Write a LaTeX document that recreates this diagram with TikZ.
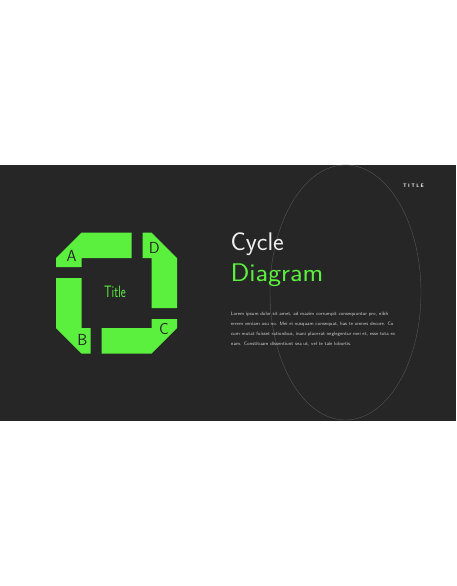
\documentclass[tikz,border=0pt]{standalone}
\definecolor{slidebg}{HTML}{262626}
\definecolor{lime}{HTML}{5CF03E}
\definecolor{ringgray}{HTML}{555555}
\definecolor{bodygray}{HTML}{CFCFCF}

\tikzset{
  piece/.style={fill=lime},
  letter/.style={text=slidebg, inner sep=0pt, font=\sffamily\fontsize{16}{16}\selectfont},
  bodyline/.style={anchor=base west, inner sep=0pt, text=bodygray, font=\sffamily\fontsize{4.85}{10}\selectfont},
  heading/.style={anchor=base west, inner sep=0pt, font=\sffamily\fontsize{25.5}{25.5}\selectfont}
}

\begin{document}
\begin{tikzpicture}[x=1pt,y=-1pt]
  \useasboundingbox (0,0) rectangle (456,586);
  \fill[white] (0,0) rectangle (456,586);
  \fill[slidebg] (0,165) rectangle (456,421);
  \draw[ringgray, line width=0.4pt] (345.5,292.5) ellipse (75.5pt and 127.5pt);

  % the four pieces of the cycle
  \fill[piece] (81.5,232.5) -- (131.5,232.5) -- (131.5,258) -- (81.5,258) -- (81.5,267) -- (56,267) -- (56,258) -- cycle;
  \fill[piece] (142.5,232.5) -- (151.5,232.5) -- (177,258) -- (177,308) -- (151.5,308) -- (151.5,258) -- (142.5,258) -- cycle;
  \fill[piece] (177,319) -- (177,328) -- (151.5,353.5) -- (101.5,353.5) -- (101.5,328) -- (151.5,328) -- (151.5,319) -- cycle;
  \fill[piece] (56,278) -- (81.5,278) -- (81.5,328) -- (90.5,328) -- (90.5,353.5) -- (81.5,353.5) -- (56,328) -- cycle;

  \node[letter] (A) at (71.7,256.2) {A};
  \node[letter] (D) at (154.2,247.7) {D};
  \node[letter] (C) at (164,329.3) {C};
  \node[letter] (B) at (82.5,340) {B};
  \node[text=lime, inner sep=0pt, font=\sffamily\fontsize{16.5}{16.5}\selectfont] (hub) at (115,291.5) {\scalebox{0.72}[1]{Title}};

  % text side
  \node[heading, text=white!94!black] (cycle) at (230.3,250) {Cycle};
  \node[heading, text=lime] (diagram) at (230.3,281.7) {\scalebox{1.09}[1]{Diagram}};

  \node[bodyline] (body1) at (230.7,315) {Lorem ipsum dolor sit amet, ad mazim corrumpit consequuntur pro, nibh};
  \node[bodyline] (body2) at (230.7,325) {errem veniam usu no. Mei ei nusquam consequat, has te omnes decore. Cu};
  \node[bodyline] (body3) at (230.7,335) {cum mutat fuisset rationibus, inani placerat neglegentur mei et, esse tota ex};
  \node[bodyline] (body4) at (230.7,345) {nam. Constituam dissentiunt sea ut, vel te tale lobortis.};

  \node[text=white, inner sep=0pt, font=\sffamily\bfseries\fontsize{5}{5}\selectfont] (tag) at (413.5,186) {T\hspace{1.4pt}I\hspace{1.4pt}T\hspace{1.4pt}L\hspace{1.4pt}E};
\end{tikzpicture}
\end{document}
